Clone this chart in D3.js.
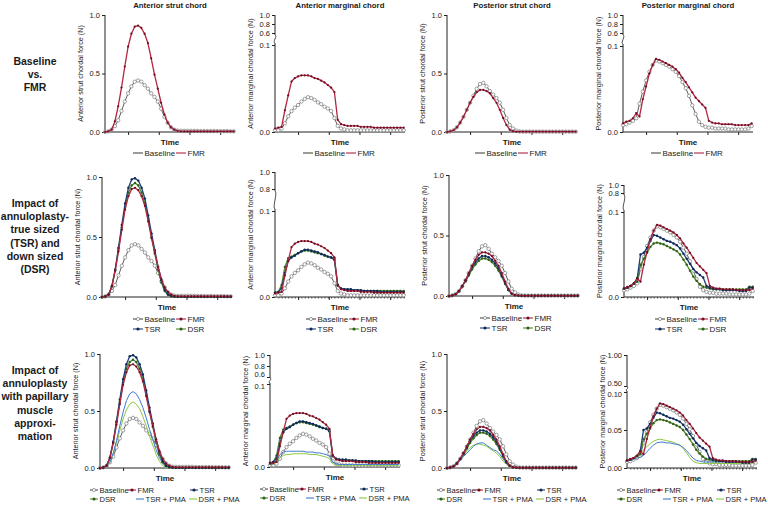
<!DOCTYPE html>
<html>
<head>
<meta charset="utf-8">
<script src="https://cdn.jsdelivr.net/npm/d3@7"></script>
<style>
	body { margin: 0; background: #fff; }
	svg text { font-family: "Liberation Sans", Arial, sans-serif; fill: #1a1a1a; }
</style>
</head>
<body>
<div id="visDiv"></div>
<script>
// ---- data: chordal force (N), 40 samples per cycle ----

// anterior strut chord
var antStrutBaseline = [0.00,0.005,0.02,0.05,0.10,0.18,0.26,0.33,0.39,0.43, 0.44,0.43,0.40,0.37,0.33,0.30,0.26,0.20,0.13,0.08, 0.04,0.02,0.012,0.01,0.01,0.01,0.01,0.01,0.01,0.008, 0.008,0.008,0.008,0.008,0.007,0.007,0.007,0.007,0.006,0.006];
var antStrutFMR = [0.00,0.005,0.02,0.09,0.22,0.38,0.56,0.73,0.84,0.90, 0.91,0.89,0.84,0.76,0.63,0.49,0.37,0.25,0.15,0.08, 0.04,0.02,0.01,0.006,0.005,0.005,0.005,0.005,0.005,0.005, 0.005,0.005,0.005,0.005,0.005,0.005,0.005,0.005,0.005,0.005];
var antStrutTSR = [0.00,0.005,0.02,0.09,0.23,0.41,0.60,0.78,0.91,0.98, 0.99,0.97,0.91,0.82,0.68,0.53,0.39,0.25,0.14,0.06, 0.02,0.01,0.005,0.003,0.003,0.003,0.003,0.003,0.003,0.003, 0.003,0.003,0.003,0.003,0.003,0.003,0.003,0.003,0.003,0.003];
var antStrutDSR = [0.00,0.005,0.02,0.09,0.22,0.40,0.58,0.75,0.87,0.93, 0.95,0.93,0.87,0.78,0.65,0.50,0.36,0.23,0.12,0.05, 0.02,0.005,0.002,0.002,0.002,0.002,0.002,0.002,0.002,0.002, 0.002,0.002,0.002,0.002,0.002,0.002,0.002,0.002,0.002,0.002];
var antStrutTSRPMA = [0.00,0.005,0.015,0.05,0.13,0.24,0.37,0.49,0.59,0.65, 0.67,0.65,0.60,0.53,0.44,0.34,0.25,0.16,0.09,0.04, 0.015,0.005,0.002,0.002,0.002,0.002,0.002,0.002,0.002,0.002, 0.002,0.002,0.002,0.002,0.002,0.002,0.002,0.002,0.002,0.002];
var antStrutDSRPMA = [0.00,0.005,0.015,0.05,0.12,0.22,0.33,0.43,0.51,0.56, 0.58,0.56,0.52,0.45,0.37,0.28,0.20,0.12,0.06,0.02, 0.008,0.003,0.002,0.002,0.002,0.002,0.002,0.002,0.002,0.002, 0.002,0.002,0.002,0.002,0.002,0.002,0.002,0.002,0.002,0.002];

// anterior marginal chord
var antMargBaseline = [0.002,0.002,0.004,0.010,0.018,0.024,0.028,0.031,0.035,0.038, 0.040,0.039,0.037,0.034,0.032,0.029,0.027,0.024,0.016,0.007, 0.004,0.003,0.002,0.002,0.002,0.002,0.002,0.002,0.002,0.002, 0.002,0.002,0.002,0.002,0.002,0.002,0.002,0.002,0.002,0.002];
var antMargFMR = [0.004,0.005,0.006,0.025,0.042,0.058,0.062,0.064,0.065,0.065, 0.065,0.064,0.062,0.061,0.059,0.057,0.054,0.051,0.046,0.014, 0.009,0.008,0.007,0.007,0.007,0.007,0.006,0.006,0.006,0.006, 0.005,0.005,0.005,0.005,0.005,0.005,0.005,0.005,0.005,0.005];
var antMargTSR = [0.005,0.006,0.010,0.028,0.042,0.046,0.048,0.051,0.053,0.055, 0.055,0.054,0.053,0.052,0.050,0.049,0.047,0.046,0.043,0.014, 0.010,0.009,0.009,0.009,0.008,0.008,0.008,0.007,0.007,0.007, 0.007,0.007,0.006,0.006,0.006,0.006,0.006,0.006,0.006,0.006];
var antMargDSR = [0.005,0.006,0.014,0.035,0.045,0.047,0.049,0.051,0.053,0.054, 0.054,0.053,0.052,0.051,0.050,0.048,0.047,0.046,0.045,0.013, 0.010,0.009,0.008,0.008,0.008,0.008,0.007,0.007,0.007,0.007, 0.007,0.007,0.007,0.007,0.007,0.007,0.007,0.007,0.007,0.007];
var antMargTSRPMA = [0.003,0.004,0.008,0.015,0.018,0.019,0.019,0.019,0.019,0.019, 0.019,0.018,0.018,0.018,0.017,0.017,0.016,0.015,0.013,0.006, 0.004,0.003,0.003,0.003,0.003,0.003,0.003,0.003,0.003,0.003, 0.003,0.003,0.003,0.003,0.003,0.003,0.003,0.003,0.003,0.003];
var antMargDSRPMA = [0.002,0.003,0.006,0.011,0.014,0.015,0.015,0.016,0.016,0.016, 0.016,0.016,0.015,0.015,0.015,0.014,0.013,0.012,0.010,0.004, 0.003,0.002,0.002,0.002,0.002,0.002,0.002,0.002,0.002,0.002, 0.002,0.002,0.002,0.002,0.002,0.002,0.002,0.002,0.002,0.002];

// posterior strut chord
var postStrutBaseline = [0.00,0.005,0.015,0.04,0.08,0.13,0.19,0.25,0.31,0.37, 0.41,0.42,0.39,0.35,0.32,0.29,0.25,0.19,0.12,0.06, 0.03,0.012,0.005,0.003,0.003,0.003,0.003,0.003,0.003,0.003, 0.003,0.003,0.003,0.003,0.003,0.003,0.003,0.003,0.003,0.003];
var postStrutFMR = [0.00,0.005,0.015,0.04,0.08,0.13,0.19,0.25,0.30,0.34, 0.36,0.36,0.35,0.33,0.29,0.25,0.19,0.12,0.06,0.02, 0.008,0.004,0.003,0.003,0.003,0.003,0.003,0.003,0.003,0.003, 0.003,0.003,0.003,0.003,0.003,0.003,0.003,0.003,0.003,0.003];
var postStrutTSR = [0.00,0.005,0.015,0.04,0.08,0.13,0.18,0.24,0.28,0.31, 0.33,0.33,0.32,0.30,0.27,0.23,0.17,0.11,0.05,0.02, 0.007,0.004,0.003,0.003,0.003,0.003,0.003,0.003,0.003,0.003, 0.003,0.003,0.003,0.003,0.003,0.003,0.003,0.003,0.003,0.003];
var postStrutDSR = [0.00,0.005,0.015,0.04,0.08,0.12,0.17,0.22,0.26,0.29, 0.31,0.31,0.30,0.28,0.25,0.21,0.16,0.10,0.05,0.02, 0.006,0.003,0.002,0.002,0.002,0.002,0.002,0.002,0.002,0.002, 0.002,0.002,0.002,0.002,0.002,0.002,0.002,0.002,0.002,0.002];
var postStrutTSRPMA = [0.00,0.005,0.015,0.035,0.065,0.10,0.13,0.16,0.19,0.21, 0.22,0.22,0.20,0.18,0.16,0.15,0.12,0.08,0.04,0.015, 0.005,0.003,0.003,0.003,0.003,0.003,0.003,0.003,0.003,0.003, 0.003,0.003,0.003,0.003,0.003,0.003,0.003,0.003,0.003,0.003];
var postStrutDSRPMA = [0.00,0.005,0.015,0.04,0.07,0.11,0.15,0.18,0.20,0.21, 0.21,0.20,0.19,0.17,0.15,0.13,0.10,0.06,0.03,0.01, 0.004,0.002,0.002,0.002,0.002,0.002,0.002,0.002,0.002,0.002, 0.002,0.002,0.002,0.002,0.002,0.002,0.002,0.002,0.002,0.002];

// posterior marginal chord
var postMargBaseline = [0.008,0.009,0.011,0.013,0.016,0.033,0.047,0.060,0.070,0.078, 0.083,0.082,0.080,0.078,0.076,0.073,0.070,0.065,0.058,0.051, 0.042,0.031,0.021,0.012,0.008,0.006,0.005,0.005,0.004,0.004, 0.004,0.004,0.003,0.003,0.003,0.003,0.003,0.003,0.004,0.007];
var postMargFMR = [0.010,0.012,0.013,0.016,0.022,0.018,0.038,0.053,0.068,0.078, 0.085,0.084,0.082,0.080,0.078,0.076,0.073,0.069,0.063,0.058, 0.052,0.046,0.040,0.036,0.032,0.028,0.013,0.011,0.010,0.010, 0.009,0.009,0.009,0.009,0.008,0.008,0.008,0.008,0.008,0.010];
var postMargTSR = [0.010,0.011,0.013,0.016,0.022,0.050,0.052,0.058,0.066,0.073, 0.072,0.070,0.068,0.066,0.065,0.063,0.061,0.057,0.051,0.045, 0.039,0.033,0.029,0.026,0.023,0.013,0.011,0.010,0.009,0.009, 0.008,0.008,0.008,0.008,0.008,0.007,0.007,0.007,0.011,0.011];
var postMargDSR = [0.010,0.011,0.013,0.016,0.018,0.038,0.045,0.052,0.059,0.063, 0.064,0.063,0.062,0.060,0.058,0.056,0.054,0.050,0.044,0.038, 0.031,0.024,0.019,0.015,0.012,0.011,0.010,0.009,0.009,0.009, 0.009,0.009,0.009,0.009,0.009,0.009,0.009,0.009,0.012,0.012];
var postMargTSRPMA = [0.010,0.011,0.012,0.013,0.014,0.017,0.021,0.026,0.030,0.033, 0.034,0.034,0.033,0.033,0.032,0.031,0.030,0.027,0.023,0.018, 0.013,0.010,0.009,0.008,0.008,0.008,0.008,0.008,0.008,0.008, 0.008,0.008,0.008,0.008,0.008,0.008,0.008,0.008,0.008,0.009];
var postMargDSRPMA = [0.010,0.011,0.012,0.014,0.018,0.024,0.028,0.032,0.035,0.037, 0.038,0.037,0.036,0.035,0.034,0.032,0.030,0.026,0.020,0.014, 0.009,0.007,0.006,0.006,0.006,0.006,0.006,0.006,0.006,0.006, 0.006,0.006,0.006,0.006,0.006,0.006,0.006,0.006,0.007,0.008];

// ---- labels and ticks ----
var colTitles = ['Anterior strut chord', 'Anterior marginal chord', 'Posterior strut chord', 'Posterior marginal chord'];
var yTitles = ['Anterior strut chordal force (N)', 'Anterior marginal chordal force (N)', 'Posterior strut chordal force (N)', 'Posterior marginal chordal force (N)'];
var rowLabels = [
	['Baseline', 'vs.', 'FMR'],
	['Impact of', 'annuloplasty-', 'true sized', '(TSR) and', 'down sized', '(DSR)'],
	['Impact of', 'annuloplasty', 'with papillary', 'muscle', 'approxi-', 'mation']
];
var rowSeries = [
	['Baseline', 'FMR'],
	['Baseline', 'DSR', 'TSR', 'FMR'],
	['Baseline', 'DSR + PMA', 'TSR + PMA', 'DSR', 'TSR', 'FMR']
];
var fullTicks = [0, 0.5, 1];
var lowTicks = [0, 0.1];
var lowTicksFine = [0, 0.05, 0.1];
var upTicks6 = [0.6, 0.8, 1.0];
var upTicks8 = [0.8, 1.0];
var upTicks5 = [0.5, 1.0];
var timeTicks = [7, 16.3, 25.6, 34.9];

var colData = [
	{'Baseline': antStrutBaseline, 'FMR': antStrutFMR, 'TSR': antStrutTSR, 'DSR': antStrutDSR, 'TSR + PMA': antStrutTSRPMA, 'DSR + PMA': antStrutDSRPMA},
	{'Baseline': antMargBaseline, 'FMR': antMargFMR, 'TSR': antMargTSR, 'DSR': antMargDSR, 'TSR + PMA': antMargTSRPMA, 'DSR + PMA': antMargDSRPMA},
	{'Baseline': postStrutBaseline, 'FMR': postStrutFMR, 'TSR': postStrutTSR, 'DSR': postStrutDSR, 'TSR + PMA': postStrutTSRPMA, 'DSR + PMA': postStrutDSRPMA},
	{'Baseline': postMargBaseline, 'FMR': postMargFMR, 'TSR': postMargTSR, 'DSR': postMargDSR, 'TSR + PMA': postMargTSRPMA, 'DSR + PMA': postMargDSRPMA}
];

var styles = {
	'Baseline':  {line: '#4a4a4a', w: 0.9, r: 1.7, fill: '#fff', stroke: '#7a7a7a'},
	'FMR':       {line: '#b3263f', w: 1.3, r: 1.1, fill: '#6b0f24', stroke: 'none'},
	'TSR':       {line: '#1f3f78', w: 1.3, r: 1.2, fill: '#0f2a55', stroke: 'none'},
	'DSR':       {line: '#4f8a2a', w: 1.3, r: 1.2, fill: '#2f5f1a', stroke: 'none'},
	'TSR + PMA': {line: '#3f7ad0', w: 1.0, r: 0},
	'DSR + PMA': {line: '#8dc740', w: 1.0, r: 0}
};

// panel placement (pixels)
var layout = [
	[{x: 105, y0: 132, y1: 15, yt: fullTicks},
	 {x: 275, y0: 132, yLow: 45, upLo: 0.6, yUpLo: 33, yUpHi: 15, yt: lowTicks, ut: upTicks6},
	 {x: 447, y0: 132, y1: 15, yt: fullTicks},
	 {x: 623, y0: 132, yLow: 46, upLo: 0.6, yUpLo: 33, yUpHi: 15, yt: lowTicks, ut: upTicks6}],
	[{x: 102, y0: 297, y1: 177, yt: fullTicks},
	 {x: 275, y0: 297, yLow: 211, upLo: 0.8, yUpLo: 189, yUpHi: 172, yt: lowTicks, ut: upTicks8, minor: true},
	 {x: 449, y0: 296, y1: 175, yt: fullTicks},
	 {x: 624, y0: 297, yLow: 212, upLo: 0.8, yUpLo: 193, yUpHi: 185, yt: lowTicks, ut: upTicks8, minor: true}],
	[{x: 100, y0: 468, y1: 354, yt: fullTicks},
	 {x: 270, y0: 467, yLow: 384, upLo: 0.6, yUpLo: 377, yUpHi: 355, yt: lowTicks, ut: upTicks6},
	 {x: 447, y0: 468, y1: 354, yt: fullTicks},
	 {x: 627, y0: 468, yLow: 392, upLo: 0.5, yUpLo: 386, yUpHi: 355, yt: lowTicksFine, ut: upTicks5, fmt: '.2f', minor: true}]
];
var rowLabelY = [65, 207, 374];
var legendCfg = [
	[{s: 'Baseline', dx: 33, dy: 21}, {s: 'FMR', dx: 76, dy: 21}],
	[{s: 'Baseline', dx: 36, dy: 22}, {s: 'FMR', dx: 79, dy: 22}, {s: 'TSR', dx: 36, dy: 32}, {s: 'DSR', dx: 79, dy: 32}],
	[{s: 'Baseline', dx: -6, dy: 22}, {s: 'FMR', dx: 32, dy: 22}, {s: 'TSR', dx: 94, dy: 22},
	 {s: 'DSR', dx: -6, dy: 31}, {s: 'TSR + PMA', dx: 40, dy: 31}, {s: 'DSR + PMA', dx: 93, dy: 31}]
];

var svg = d3.select('#visDiv').append('svg')
	.attr('width', 768)
	.attr('height', 505);

// row labels
rowLabels.forEach(function(lines, r) {
	var t = svg.append('text')
		.attr('text-anchor', 'middle')
		.style('font-weight', 'bold')
		.style('font-size', '10.5px');
	lines.forEach(function(l, i) {
		t.append('tspan').attr('x', 35).attr('y', rowLabelY[r] + i * 13.2).text(l);
	});
});

layout.forEach(function(rowP, r) {
	rowP.forEach(function(p, c) {
		var g = svg.append('g');
		var W = 130;
		var x = d3.scaleLinear().domain([0, 39]).range([p.x, p.x + 128.7]);
		var broken = p.yLow !== undefined;
		var y = broken
			? d3.scaleLinear().domain([0, 0.1]).range([p.y0, p.yLow])
			: d3.scaleLinear().domain([0, 1]).range([p.y0, p.y1]);
		var topY = broken ? p.yUpHi : p.y1;
		var fmt = d3.format(p.fmt || '.1f');

		if (r === 0) {
			g.append('text')
				.attr('x', p.x + W / 2).attr('y', 8)
				.attr('text-anchor', 'middle')
				.style('font-weight', 'bold').style('font-size', '7.8px')
				.text(colTitles[c]);
		}

		// y axis
		function yAxis(scale, ticks) {
			var ax = g.append('g')
				.attr('transform', 'translate(' + p.x + ',0)')
				.call(d3.axisLeft(scale).tickValues(ticks).tickFormat(fmt).tickSize(3).tickPadding(2));
			ax.select('.domain').remove();
			ax.selectAll('line').attr('stroke', '#222');
			ax.selectAll('text').style('font-size', '7.5px');
			return ax;
		}
		var axLow = yAxis(y, p.yt);
		if (broken) {
			var yUp = d3.scaleLinear().domain([p.upLo, 1]).range([p.yUpLo, p.yUpHi]);
			var axUp = yAxis(yUp, p.ut);
			// tight breaks: keep the lowest upper label clear of the top lower label
			if (p.yLow - p.yUpLo < 8) {
				axUp.selectAll('.tick').filter(function(d) { return d === p.upLo; })
					.select('text').attr('dy', '-0.05em');
				axLow.selectAll('.tick').filter(function(d) { return d === 0.1; })
					.select('text').attr('dy', '0.55em');
			}
			var a = p.yUpLo + 2, b = p.yLow - 2;
			if (b - a < 4) { a = p.yUpLo + 1; b = p.yLow - 1; }
			g.append('line').attr('x1', p.x).attr('x2', p.x).attr('y1', p.yUpHi).attr('y2', a)
				.attr('stroke', '#222').attr('stroke-width', 1);
			g.append('path')
				.attr('d', 'M' + p.x + ',' + a + 'C' + (p.x + 3) + ',' + (a + 1) + ' ' + (p.x - 3) + ',' + (b - 1) + ' ' + p.x + ',' + b)
				.attr('fill', 'none').attr('stroke', '#222').attr('stroke-width', 0.8);
			g.append('line').attr('x1', p.x).attr('x2', p.x).attr('y1', b).attr('y2', p.y0)
				.attr('stroke', '#222').attr('stroke-width', 1);
		} else {
			g.append('line').attr('x1', p.x).attr('x2', p.x).attr('y1', p.y1).attr('y2', p.y0)
				.attr('stroke', '#222').attr('stroke-width', 1);
		}

		g.append('text')
			.attr('transform', 'translate(' + (p.x - 22) + ',' + ((p.y0 + topY) / 2) + ')rotate(-90)')
			.attr('text-anchor', 'middle')
			.style('font-size', '7.2px')
			.text(yTitles[c]);

		// x axis
		if (p.minor) {
			var mn = g.append('g').attr('transform', 'translate(0,' + p.y0 + ')')
				.call(d3.axisBottom(x).tickValues(d3.range(1, 40)).tickFormat('').tickSize(1.6).tickSizeOuter(0));
			mn.select('.domain').remove();
			mn.selectAll('line').attr('stroke', '#222').attr('stroke-width', 0.7);
		}
		var xa = g.append('g').attr('transform', 'translate(0,' + p.y0 + ')')
			.call(d3.axisBottom(x).tickValues(timeTicks).tickFormat('').tickSize(3).tickSizeOuter(0));
		xa.select('.domain').remove();
		xa.selectAll('line').attr('stroke', '#222');
		g.append('line').attr('x1', p.x).attr('x2', p.x + W).attr('y1', p.y0).attr('y2', p.y0)
			.attr('stroke', '#222').attr('stroke-width', 1);

		g.append('text')
			.attr('x', p.x + W / 2).attr('y', p.y0 + 13)
			.attr('text-anchor', 'middle')
			.style('font-weight', 'bold').style('font-size', '8px')
			.text('Time');

		// series
		var line = d3.line()
			.x(function(d, i) { return x(i); })
			.y(function(d) { return y(d); });
		rowSeries[r].forEach(function(s) {
			var st = styles[s], vals = colData[c][s];
			g.append('path')
				.attr('d', line(vals))
				.attr('fill', 'none')
				.attr('stroke', st.line)
				.attr('stroke-width', st.w)
				.attr('stroke-linejoin', 'round');
			if (st.r > 0) {
				g.selectAll(null).data(vals).enter()
					.append('circle')
					.attr('cx', function(d, i) { return x(i); })
					.attr('cy', function(d) { return y(d); })
					.attr('r', st.r)
					.attr('fill', st.fill)
					.attr('stroke', st.stroke)
					.attr('stroke-width', 0.7);
			}
		});

		// legend
		legendCfg[r].forEach(function(it) {
			var st = styles[it.s];
			var cx = p.x + it.dx, cy = p.y0 + it.dy;
			var half = r === 2 ? 4 : 5;
			g.append('line')
				.attr('x1', cx - half).attr('x2', cx + half).attr('y1', cy).attr('y2', cy)
				.attr('stroke', st.line).attr('stroke-width', 1.1);
			if (r > 0 && st.r > 0) {
				g.append('circle')
					.attr('cx', cx).attr('cy', cy).attr('r', 1.6)
					.attr('fill', st.fill).attr('stroke', st.stroke)
					.attr('stroke-width', 0.7);
			}
			g.append('text')
				.attr('x', cx + half + 1.5).attr('y', cy + 2.8)
				.style('font-size', r === 2 ? '7.6px' : '8px')
				.text(it.s);
		});
	});
});
</script>
</body>
</html>
